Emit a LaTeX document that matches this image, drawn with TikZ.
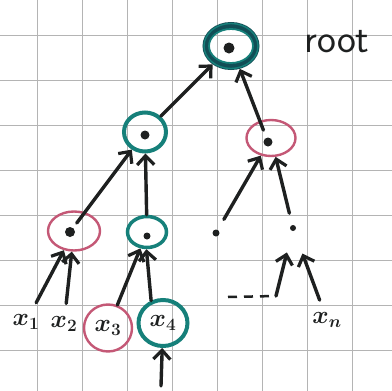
\documentclass[tikz,border=0pt]{standalone}
\usetikzlibrary{shapes.geometric,arrows.meta}
\definecolor{tealc}{RGB}{22,128,122}
\definecolor{tealdark}{RGB}{18,78,86}
\definecolor{pinkc}{RGB}{196,88,118}
\definecolor{ink}{RGB}{30,32,32}
\definecolor{gridc}{RGB}{180,180,180}
\tikzset{
  gridline/.style={gridc, line width=0.9pt},
  ring/.style={ellipse, draw, inner sep=0pt},
  tealring/.style={ring, draw=tealc, line width=3.5pt},
  pinkring/.style={ring, draw=pinkc, line width=2.4pt},
  arr/.style={ink, line width=3.4pt, line cap=round,
    -{Straight Barb[length=9pt,width=17pt,line width=3.2pt]}},
  dotn/.style={circle, fill=ink, inner sep=0pt},
  lab/.style={ink, inner sep=1pt, font=\boldmath\fontsize{26}{26}\selectfont},
  rootlab/.style={ink, inner sep=0pt, font=\sffamily\fontsize{40}{40}\selectfont},
}
\begin{document}
\begin{tikzpicture}[x=1pt,y=-1pt]
\useasboundingbox (0,0) rectangle (392,391);
\fill[white] (0,0) rectangle (392,391);
\foreach \i in {37,82,...,352} \draw[gridline] (\i,0) -- (\i,391);
\foreach \j in {35,80,...,350} \draw[gridline] (0,\j) -- (392,\j);

% tree nodes
\node[ring, draw=tealdark, line width=7pt, minimum width=50pt, minimum height=41pt] (root) at (231,46) {};
\draw[tealc, line width=1.8pt] (root.center) ellipse (22pt and 17pt);
\draw[tealc, line width=1.4pt] (root.center) ellipse (27pt and 22.5pt);
\node[rootlab] (rootlabel) at (337,42) {root};

\node[tealring, line width=4pt, minimum width=42pt, minimum height=39pt] (A) at (145,132) {};
\node[pinkring, minimum width=49pt, minimum height=36pt] (B) at (271,138) {};
\node[pinkring, minimum width=52pt, minimum height=39pt] (C) at (74,231) {};
\node[tealring, minimum width=39pt, minimum height=31pt] (D) at (147,232) {};
\node[dotn, minimum size=7pt] (E) at (216,233) {};
\node[dotn, minimum size=6pt] (F) at (293,228) {};

% dots inside nodes
\node[dotn, minimum size=11pt] (rootdot) at (229,48) {};
\node[dotn, minimum size=9pt] (Adot) at (145,135) {};
\node[dotn, minimum size=9pt] (Bdot) at (268,142) {};
\node[dotn, minimum size=10pt] (Cdot) at (70,232) {};
\node[dotn, minimum size=7pt] (Ddot) at (147,236) {};

% leaves
\node[lab] (x1) at (26,322) {$x_1$};
\node[lab] (x2) at (64,324) {$x_2$};
\node[pinkring, minimum width=48pt, minimum height=47pt] (x3c) at (108,328) {};
\node[lab] (x3) at (108,328) {$x_3$};
\node[tealring, line width=4pt, minimum width=49pt, minimum height=46pt] (x4c) at (163,323) {};
\node[lab] (x4) at (163,323) {$x_4$};
\node[lab] (xn) at (327,320) {$x_n$};

\coordinate (bot) at (161,386);
\coordinate (ds) at (228,297);
\coordinate (de) at (276,296);

% connectors
\draw[arr] (A) -- (root);
\draw[arr, shorten <=8pt] (Bdot) -- (root);
\draw[arr, shorten <=6pt] (Cdot) -- (A);
\draw[arr] (D) -- (A);
\draw[arr, shorten <=12pt] (E) -- (B);
\draw[arr, shorten <=12pt] (F) -- (B);
\draw[arr, shorten <=12pt] (x1) -- (C);
\draw[arr, shorten <=12pt] (x2) -- (C);
\draw[arr] (x3c) -- (D);
\draw[arr] (x4c.118) -- (D.268);
\draw[arr] (bot) -- (x4c);
\draw[ink, line width=2.5pt, dash pattern=on 9pt off 7pt] (ds) -- (de);
\draw[arr, shorten >=22pt] (de) -- (F);
\draw[arr, shorten <=12pt, shorten >=24pt] (xn) -- (F);
\end{tikzpicture}
\end{document}
